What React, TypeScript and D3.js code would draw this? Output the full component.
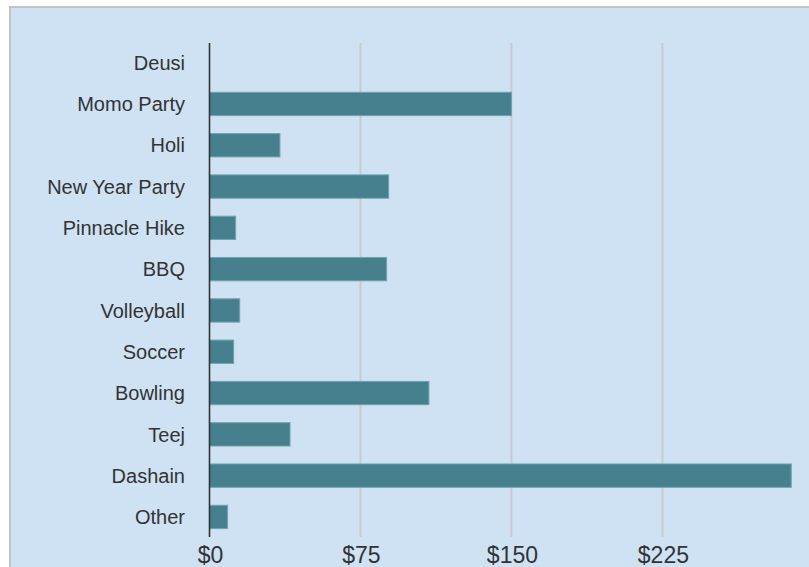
import { useEffect, useRef } from 'react';
import * as d3 from 'd3';

const categories = [
  'Deusi', 'Momo Party', 'Holi', 'New Year Party', 'Pinnacle Hike', 'BBQ',
  'Volleyball', 'Soccer', 'Bowling', 'Teej', 'Dashain', 'Other',
];
const amounts = [0, 150, 35, 89, 13, 88, 15, 12, 109, 40, 289, 9];
const tickValues = [0, 75, 150, 225];

export default function App() {
  const svgRef = useRef<SVGSVGElement>(null);
  const width = 809;
  const height = 567;

  useEffect(() => {
    if (!svgRef.current) return;
    const svg = d3.select(svgRef.current);
    svg.selectAll('*').remove();

    // panel background (runs off the right/bottom edge like the original)
    svg.append('rect')
      .attr('x', 10)
      .attr('y', 7)
      .attr('width', 840)
      .attr('height', 620)
      .attr('fill', '#cfe2f3')
      .attr('stroke', '#c2c2c2')
      .attr('stroke-width', 2);

    const x = d3.scaleLinear().domain([0, 300]).range([209.5, 813.4]);
    const y = d3.scaleBand<string>()
      .domain(categories)
      .range([42, 537.6])
      .paddingInner(0.435)
      .paddingOuter(0.2175);

    // gridlines
    svg.append('g')
      .selectAll('line')
      .data(tickValues.filter(d => d > 0))
      .join('line')
      .attr('x1', d => x(d))
      .attr('x2', d => x(d))
      .attr('y1', 43)
      .attr('y2', 537)
      .attr('stroke', '#c9cbce')
      .attr('stroke-width', 2);

    // bars
    svg.append('g')
      .selectAll('rect')
      .data(categories)
      .join('rect')
      .attr('x', x(0))
      .attr('y', d => y(d)!)
      .attr('width', (d, i) => x(amounts[i]) - x(0))
      .attr('height', y.bandwidth())
      .attr('fill', '#45808c')
      .attr('stroke', '#72a3b1')
      .attr('stroke-width', amounts[0] === 0 ? 1 : 1)
      .attr('display', (d, i) => (amounts[i] > 0 ? null : 'none'));

    // axis line
    svg.append('line')
      .attr('x1', x(0))
      .attr('x2', x(0))
      .attr('y1', 43)
      .attr('y2', 537)
      .attr('stroke', '#333')
      .attr('stroke-width', 1.6);

    // category labels
    svg.append('g')
      .selectAll('text')
      .data(categories)
      .join('text')
      .attr('x', 185)
      .attr('y', d => y(d)! + y.bandwidth() / 2)
      .attr('dy', '0.36em')
      .attr('text-anchor', 'end')
      .attr('fill', '#333')
      .style('font-family', '"Liberation Sans", Arial, sans-serif')
      .style('font-size', '20px')
      .text(d => d);

    // tick labels
    svg.append('g')
      .selectAll('text')
      .data(tickValues)
      .join('text')
      .attr('x', d => x(d) + 1)
      .attr('y', 563)
      .attr('text-anchor', 'middle')
      .attr('fill', '#333')
      .style('font-family', '"Liberation Sans", Arial, sans-serif')
      .style('font-size', '23px')
      .text(d => `$${d}`);
  }, []);

  return (
    <svg
      ref={svgRef}
      width={width}
      height={height}
      viewBox={`0 0 ${width} ${height}`}
      style={{ position: 'absolute', left: 0, top: 0, background: '#fff' }}
    />
  );
}
